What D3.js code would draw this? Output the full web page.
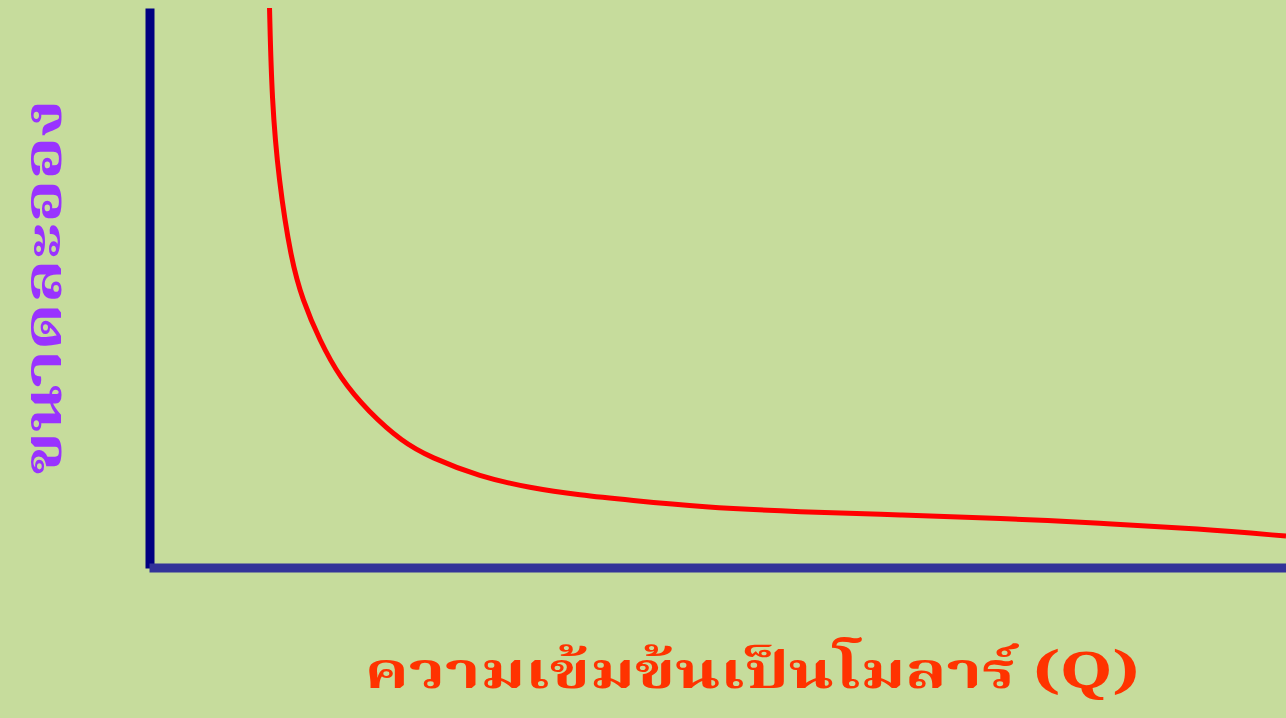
<!DOCTYPE html>
<html>
<head>
<meta charset="utf-8">
<script src="https://cdn.jsdelivr.net/npm/d3@7"></script>
<style>
  html, body { margin: 0; padding: 0; background: #C6DC9C; overflow: hidden; }
  svg { display: block; }
</style>
</head>
<body>
<svg width="1286" height="718"></svg>
<script>
// curve (x: concentration, y: particle size, both 0..100)
let conc = [10.6, 10.8, 11.4, 12.5, 13.5, 15.0, 16.8, 19.3, 22.3, 24.7, 29.1, 33.5, 37.9, 42.3, 48.5, 57.3, 66.1, 74.9, 83.6, 92.4, 100]
let size = [100, 83.6, 69.3, 55.0, 47.9, 40.7, 33.9, 27.9, 22.5, 19.8, 16.3, 14.3, 13.0, 12.1, 10.9, 10.0, 9.5, 8.9, 8.0, 7.0, 5.7]

let xTitle = 'ความเข้มข้นเป็นโมลาร์ (Q)'
let yTitle = 'ขนาดละออง'

let points = conc.map((c, i) => ({ x: c, y: size[i] }))

let svg = d3.select('svg')

let x = d3.scaleLinear().domain([0, 100]).range([149, 1286])
let y = d3.scaleLinear().domain([0, 100]).range([568, 8])

let yAxis = svg.append('g')
    .attr('transform', 'translate(149.5,0)')
    .call(d3.axisLeft(y).tickValues([]).tickSizeOuter(0))
yAxis.select('.domain')
    .attr('stroke', '#000080')
    .attr('stroke-width', 9)

let xAxis = svg.append('g')
    .attr('transform', 'translate(0,567.5)')
    .call(d3.axisBottom(x).tickValues([]).tickSizeOuter(0))
xAxis.select('.domain')
    .attr('stroke', '#333399')
    .attr('stroke-width', 9)

let line = d3.line()
    .x(d => x(d.x))
    .y(d => y(d.y))
    .curve(d3.curveBasis)

svg.append('path')
    .datum(points)
    .attr('d', line)
    .attr('fill', 'none')
    .attr('stroke', '#FF0000')
    .attr('stroke-width', 5)

let thaiFont = '"Noto Serif Thai", "Noto Sans Thai", "Noto Sans", serif'

svg.append('text')
    .attr('x', 752)
    .attr('y', 688)
    .attr('text-anchor', 'middle')
    .attr('font-family', thaiFont)
    .attr('font-weight', 'bold')
    .attr('font-size', 50)
    .attr('fill', '#FF3300')
    .attr('textLength', 775)
    .attr('lengthAdjust', 'spacingAndGlyphs')
    .text(xTitle)

svg.append('text')
    .attr('transform', 'translate(61,287) rotate(-90)')
    .attr('text-anchor', 'middle')
    .attr('font-family', thaiFont)
    .attr('font-weight', 'bold')
    .attr('font-size', 54)
    .attr('fill', '#9933FF')
    .attr('textLength', 375)
    .attr('lengthAdjust', 'spacingAndGlyphs')
    .text(yTitle)
</script>
</body>
</html>
